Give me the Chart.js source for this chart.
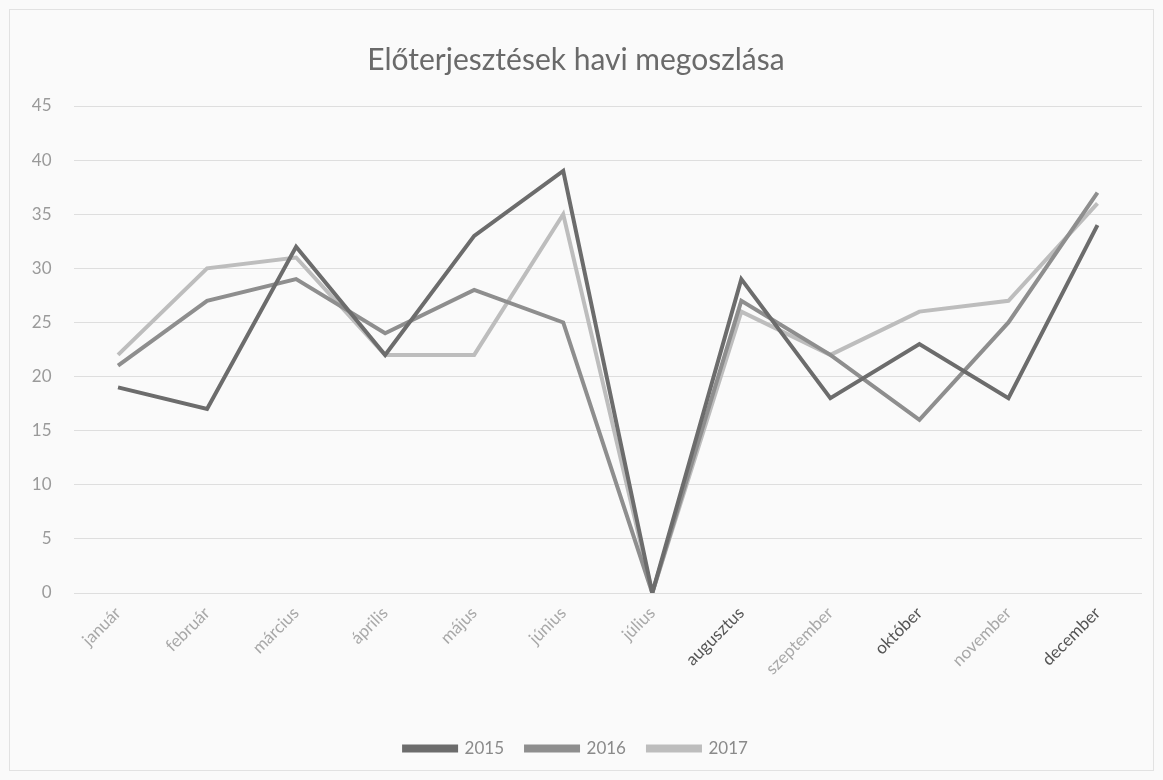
<!DOCTYPE html>
<html lang="hu">
<head>
    <meta charset="UTF-8">
    <title>Előterjesztések havi megoszlása</title>
    <style>
        html, body {
            margin: 0;
            padding: 0;
            background: #fafafa;
        }
        .chart-box {
            width: 1163px;
            height: 780px;
            position: relative;
        }
    </style>
</head>
<body>
    <div class="chart-box">
        <canvas id="monthChart" width="1163" height="780"></canvas>
    </div>
    <script src="https://cdn.jsdelivr.net/npm/chart.js"></script>
    <script>
        // Data
        const months = ['január', 'február', 'március', 'április', 'május', 'június',
                        'július', 'augusztus', 'szeptember', 'október', 'november', 'december'];
        const years = ['2015', '2016', '2017'];
        const values2015 = [19, 17, 32, 22, 33, 39, 0, 29, 18, 23, 18, 34];
        const values2016 = [21, 27, 29, 24, 28, 25, 0, 27, 22, 16, 25, 37];
        const values2017 = [22, 30, 31, 22, 22, 35, 0, 26, 22, 26, 27, 36];
        const yTicks = [0, 5, 10, 15, 20, 25, 30, 35, 40, 45];

        // grey shades of the scan
        const lineColors = ['#6c6c6c', '#8e8e8e', '#bdbdbd'];
        // some month labels came out darker in the scan
        const darkLabels = ['augusztus', 'október', 'december'];

        const fontName = 'Lato, "Open Sans", sans-serif';

        // paint the page colour and the faint frame
        const framePlugin = {
            id: 'frame',
            beforeDraw(chart) {
                const ctx = chart.ctx;
                ctx.save();
                ctx.fillStyle = '#fafafa';
                ctx.fillRect(0, 0, chart.width, chart.height);
                ctx.strokeStyle = '#e2e2e2';
                ctx.lineWidth = 1;
                ctx.strokeRect(9.5, 9.5, chart.width - 19, chart.height - 19);
                ctx.restore();
            }
        };

        const seriesValues = [values2015, values2016, values2017];

        const ctx = document.getElementById('monthChart').getContext('2d');
        const monthChart = new Chart(ctx, {
            type: 'line',
            data: {
                labels: months,
                datasets: years.map((year, i) => ({
                    label: year,
                    data: seriesValues[i],
                    borderColor: lineColors[i],
                    backgroundColor: lineColors[i],
                    borderWidth: 4,
                    pointRadius: 0,
                    tension: 0,
                    fill: false
                }))
            },
            options: {
                responsive: false,
                animation: false,
                layout: {
                    padding: { left: 10, right: 21, top: 0, bottom: 13 }
                },
                plugins: {
                    title: {
                        display: true,
                        text: 'Előterjesztések havi megoszlása',
                        color: '#6a6a6a',
                        font: { family: fontName, size: 30, weight: 'normal' },
                        padding: { top: 42, bottom: 28 }
                    },
                    legend: {
                        position: 'bottom',
                        labels: {
                            color: '#8a8a8a',
                            font: { family: fontName, size: 17 },
                            boxWidth: 52,
                            boxHeight: 4,
                            padding: 22
                        }
                    },
                    tooltip: { enabled: false }
                },
                scales: {
                    x: {
                        offset: true,
                        grid: { display: false, drawTicks: false },
                        border: { display: false },
                        ticks: {
                            minRotation: 45,
                            maxRotation: 45,
                            padding: 10,
                            font: { family: fontName, size: 17 },
                            color: (c) => darkLabels.includes(months[c.index]) ? '#555555' : '#a8a8a8'
                        },
                        afterFit: (scale) => { scale.height = 125; }
                    },
                    y: {
                        min: 0,
                        max: 45,
                        afterBuildTicks: (scale) => { scale.ticks = yTicks.map(v => ({ value: v })); },
                        grid: { color: '#dedede', lineWidth: 1, drawTicks: false },
                        border: { display: false },
                        ticks: {
                            padding: 22,
                            color: '#9a9a9a',
                            font: { family: fontName, size: 17 }
                        },
                        afterFit: (scale) => { scale.width = 63.5; }
                    }
                }
            },
            plugins: [framePlugin]
        });
    </script>
</body>
</html>
